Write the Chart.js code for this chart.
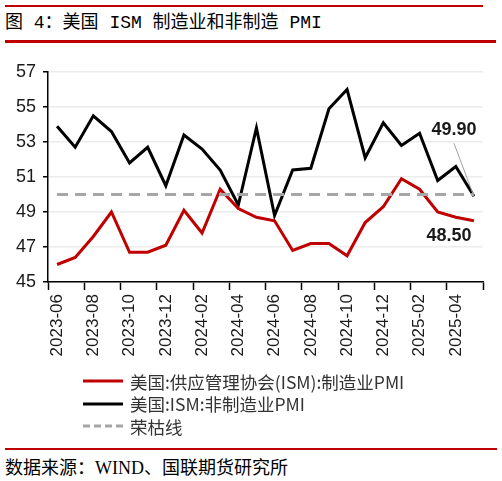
<!DOCTYPE html>
<html>
<head>
<meta charset="utf-8">
<script src="https://cdn.jsdelivr.net/npm/chart.js@4.4.1/dist/chart.umd.min.js"></script>
<style>
  html, body { margin: 0; padding: 0; background: #fff; }
  body { width: 502px; height: 481px; position: relative; overflow: hidden; }
  .rule { position: absolute; background: #c00000; }
  #title {
    position: absolute; left: 5px; top: 11px;
    font-family: "Liberation Mono", "Noto Sans CJK SC", sans-serif;
    font-size: 18px; line-height: 24px; color: #000; white-space: pre;
  }
  #chartBox { position: absolute; left: 0; top: 50px; width: 502px; height: 320px; }
  #legend {
    position: absolute; left: 83px; top: 370px;
    font-family: "Noto Sans CJK SC", sans-serif; font-size: 17.5px; color: #333;
  }
  .item { height: 22.5px; display: flex; align-items: center; white-space: nowrap; }
  .item svg { margin-right: 7px; }
  #source {
    position: absolute; left: 5px; top: 456px;
    font-family: "Liberation Serif", "Noto Sans CJK SC", serif;
    font-size: 18px; line-height: 24px; color: #000; white-space: nowrap;
  }
</style>
</head>
<body>
<div class="rule" style="left:5px;top:5px;width:478px;height:2px"></div>
<div id="title">图 4：美国 ISM 制造业和非制造 PMI</div>
<div class="rule" style="left:5px;top:40px;width:491px;height:3px"></div>
<div id="chartBox"><canvas id="pmiChart"></canvas></div>
<div id="legend"></div>
<div class="rule" style="left:5px;top:448px;width:492px;height:2px"></div>
<div id="source">数据来源：WIND、国联期货研究所</div>

<script>
const months = [
    '2023-06', '2023-07', '2023-08', '2023-09', '2023-10', '2023-11', '2023-12',
    '2024-01', '2024-02', '2024-03', '2024-04', '2024-05', '2024-06', '2024-07',
    '2024-08', '2024-09', '2024-10', '2024-11', '2024-12',
    '2025-01', '2025-02', '2025-03', '2025-04', '2025-05'
];
const manufacturing = [
    46.0, 46.4, 47.6, 49.0, 46.7, 46.7, 47.1,
    49.1, 47.8, 50.3, 49.2, 48.7, 48.5, 46.8,
    47.2, 47.2, 46.5, 48.4, 49.3,
    50.9, 50.3, 49.0, 48.7, 48.5
];
const services = [
    53.9, 52.7, 54.5, 53.6, 51.8, 52.7, 50.5,
    53.4, 52.6, 51.4, 49.4, 53.8, 48.8, 51.4,
    51.5, 54.9, 56.0, 52.1, 54.1,
    52.8, 53.5, 50.8, 51.6, 49.9
];
const boomBust = months.map(() => 50);
const yTicks = [45, 47, 49, 51, 53, 55, 57];

const names = ['美国:供应管理协会(ISM):制造业PMI', '美国:ISM:非制造业PMI', '荣枯线'];

// value labels at the end of the two PMI lines
const endLabels = {
    id: 'endLabels',
    afterDatasetsDraw(chart) {
        const ctx = chart.ctx;
        const xs = chart.scales.x, ys = chart.scales.y;
        const last = months.length - 1;
        const px = xs.getPixelForValue(last);
        const pyS = ys.getPixelForValue(services[last]);
        const pyM = ys.getPixelForValue(manufacturing[last]);
        ctx.save();
        ctx.strokeStyle = '#a0a0a0';
        ctx.lineWidth = 1;
        ctx.beginPath();
        ctx.moveTo(px - 20, pyS - 53);
        ctx.lineTo(px, pyS);
        ctx.stroke();
        ctx.fillStyle = '#1a1a1a';
        ctx.font = 'bold 18px "Liberation Sans", Arial, sans-serif';
        ctx.textAlign = 'center';
        ctx.textBaseline = 'middle';
        ctx.fillText(services[last].toFixed(2), px - 20, pyS - 66);
        ctx.fillText(manufacturing[last].toFixed(2), px - 25, pyM + 15);
        ctx.restore();
    }
};

const chart = new Chart(document.getElementById('pmiChart'), {
    type: 'line',
    data: {
        labels: months,
        datasets: [{
            label: names[2],
            data: boomBust,
            borderColor: '#a6a6a6',
            borderWidth: 3,
            borderDash: [11, 7],
            pointRadius: 0,
            order: 0
        }, {
            label: names[0],
            data: manufacturing,
            borderColor: '#c00000',
            borderWidth: 3,
            pointRadius: 0,
            order: 1
        }, {
            label: names[1],
            data: services,
            borderColor: '#000000',
            borderWidth: 3,
            pointRadius: 0,
            order: 2
        }]
    },
    options: {
        responsive: true,
        maintainAspectRatio: false,
        animation: false,
        layout: { padding: { top: 22, right: 19, bottom: 0, left: 0 } },
        plugins: {
            legend: { display: false },
            tooltip: { enabled: false }
        },
        scales: {
            x: {
                offset: true,
                afterFit: scale => { scale.height = 88; },
                grid: {
                    offset: true,
                    drawOnChartArea: false,
                    tickLength: 8,
                    tickWidth: 1.5,
                    tickColor: c => (c.type !== 'tick' || c.index % 2 === 0) ? '#000' : 'rgba(0,0,0,0)'
                },
                border: { color: '#000', width: 1.5 },
                ticks: {
                    autoSkip: false,
                    maxRotation: 90,
                    minRotation: 90,
                    padding: 4,
                    color: '#1a1a1a',
                    font: { family: '"Liberation Sans", Arial, sans-serif', size: 17 },
                    callback: (v, i) => i % 2 === 0 ? months[i] : ''
                }
            },
            y: {
                min: 45,
                max: 57,
                afterFit: scale => { scale.width = 48; },
                afterBuildTicks: scale => { scale.ticks = yTicks.map(v => ({ value: v })); },
                grid: {
                    color: '#ececec',
                    lineWidth: 1.5,
                    tickLength: 5,
                    tickColor: '#000',
                    tickWidth: 1.5
                },
                border: { color: '#000', width: 1.5 },
                ticks: {
                    padding: 7,
                    color: '#1a1a1a',
                    font: { family: '"Liberation Sans", Arial, sans-serif', size: 18 }
                }
            }
        }
    },
    plugins: [endLabels]
});

// legend in the reference's order, one row per series
const legendOrder = [1, 2, 0];
document.getElementById('legend').innerHTML = legendOrder.map(i => {
    const ds = chart.data.datasets[i];
    const dash = ds.borderDash ? 'stroke-dasharray="7 4"' : '';
    return '<div class="item"><svg width="40" height="4"><line x1="0" y1="2" x2="40" y2="2" stroke="' +
        ds.borderColor + '" stroke-width="3" ' + dash + '/></svg>' + ds.label + '</div>';
}).join('');
</script>
</body>
</html>
